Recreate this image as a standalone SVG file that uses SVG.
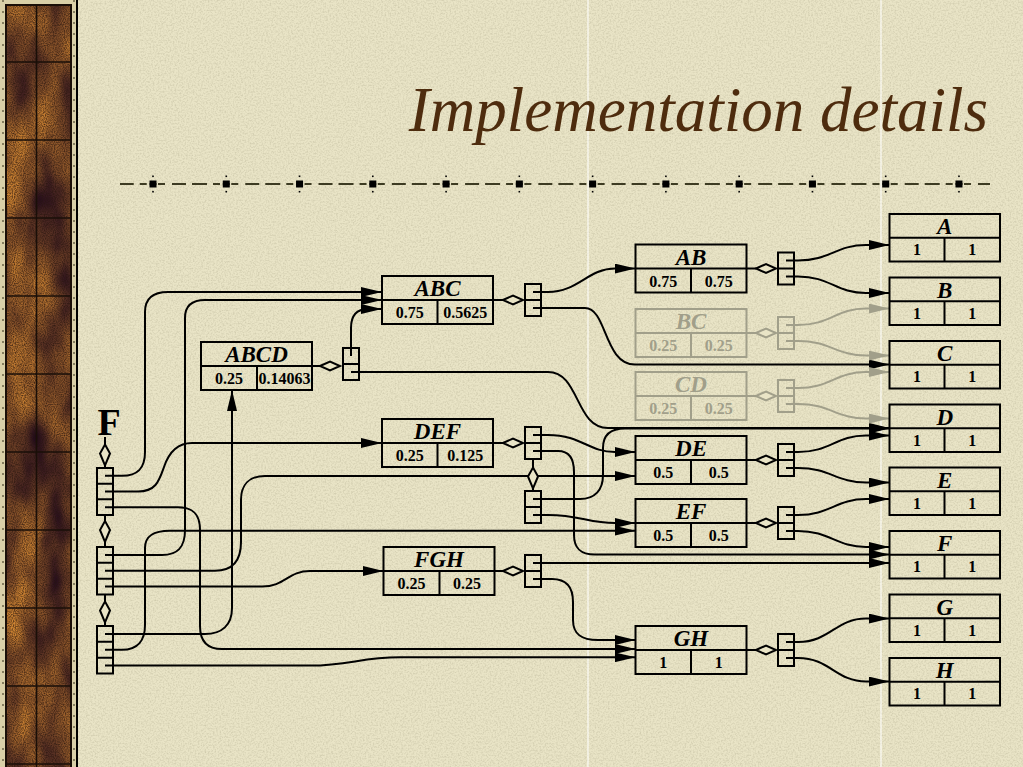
<svg xmlns="http://www.w3.org/2000/svg" width="1023" height="767" viewBox="0 0 1023 767">
<defs>
<style>
.box{fill:none;stroke:#000;stroke-width:2}
.gbox{fill:none;stroke:#a19f8a;stroke-width:2}
.e{fill:none;stroke:#000;stroke-width:2;marker-end:url(#ah)}
.ge{fill:none;stroke:#a19f8a;stroke-width:2;marker-end:url(#gah)}
.lbl{font-family:"Liberation Serif","Times New Roman",serif;font-style:italic;font-weight:bold;font-size:23px;text-anchor:middle;fill:#000}
.num{font-family:"Liberation Serif","Times New Roman",serif;font-weight:bold;font-size:16px;text-anchor:middle;fill:#000}
.gray text{fill:#a19f8a}
.dia{fill:#e9e4c6;stroke:#000;stroke-width:2}
.gdia{fill:#e9e4c6;stroke:#a19f8a;stroke-width:2}
</style>
<marker id="ah" viewBox="0 0 21 10" refX="21" refY="5" markerWidth="21" markerHeight="10" markerUnits="userSpaceOnUse" orient="auto"><path d="M0,0 L21,5 L0,10 z" fill="#000"/></marker>
<marker id="gah" viewBox="0 0 21 10" refX="21" refY="5" markerWidth="21" markerHeight="10" markerUnits="userSpaceOnUse" orient="auto"><path d="M0,0 L21,5 L0,10 z" fill="#a19f8a"/></marker>
<polygon id="dh" points="0,0 10,-4.5 20,0 10,4.5"/>
<polygon id="dv" points="0,0 5,9 0,21 -5,9"/>
<g id="sq"><rect x="-3.5" y="-3.5" width="7" height="7" fill="#000"/><rect x="-0.8" y="-8.5" width="1.6" height="1.6" fill="#000"/><rect x="-0.8" y="6.9" width="1.6" height="1.6" fill="#000"/></g>
<filter id="paper" x="0" y="0" width="1023" height="767" filterUnits="userSpaceOnUse" color-interpolation-filters="sRGB">
<feTurbulence type="fractalNoise" baseFrequency="0.6" numOctaves="2" seed="5"/>
<feColorMatrix type="matrix" values="0 0 0 0 0.35  0 0 0 0 0.33  0 0 0 0 0.22  0.35 0 0 0 -0.14"/>
</filter>
<filter id="wood" x="0" y="0" width="78" height="767" filterUnits="userSpaceOnUse" color-interpolation-filters="sRGB">
<feTurbulence type="fractalNoise" baseFrequency="0.025 0.012" numOctaves="3" seed="7" result="n"/>
<feColorMatrix in="n" type="matrix" values="1.2 0 0 0 -0.12  0.85 0 0 0 -0.14  0.15 0 0 0 0.08  0 0 0 0 1" result="c"/>
<feTurbulence type="fractalNoise" baseFrequency="0.9" numOctaves="1" seed="3" result="f"/>
<feColorMatrix in="f" type="matrix" values="0 0 0 0 0.15  0 0 0 0 0.08  0 0 0 0 0.05  1.6 0 0 0 -0.55" result="fa"/>
<feComposite in="fa" in2="c" operator="over" result="m"/>
<feComposite in="m" in2="SourceGraphic" operator="in"/>
</filter>
</defs>

<g id="background">
<rect width="1023" height="767" fill="#e9e4c6"/>
<rect width="1023" height="767" fill="#fff" filter="url(#paper)"/>
<line x1="588" y1="0" x2="588" y2="767" stroke="#fff" stroke-width="1.2" opacity="0.85"/>
<line x1="881" y1="0" x2="881" y2="767" stroke="#fff" stroke-width="1.2" opacity="0.85"/>
</g>

<g id="border">
<rect x="0" y="0" width="78" height="767" fill="#d9d0a8"/>
<line x1="3" y1="0" x2="3" y2="767" stroke="#6b6448" stroke-width="1.5" stroke-dasharray="2 9"/>
<line x1="74" y1="0" x2="74" y2="767" stroke="#6b6448" stroke-width="1.5" stroke-dasharray="2 9"/>
<rect x="6" y="5" width="65" height="762" fill="#7a4a22" filter="url(#wood)"/>
<rect x="6" y="5" width="65" height="770" fill="none" stroke="#1a0f08" stroke-width="2"/>
<line x1="77" y1="0" x2="77" y2="767" stroke="#000" stroke-width="2"/>
<line x1="36.5" y1="5" x2="36.5" y2="767" stroke="#1a0f08" stroke-width="1.6"/>
<path d="M6,62H71 M6,140H71 M6,218H71 M6,296H71 M6,374H71 M6,452H71 M6,530H71 M6,608H71 M6,686H71 M6,764H71" stroke="#1a0f08" stroke-width="1.6"/>
</g>

<g id="title">
<text x="988" y="131" font-family="Liberation Serif,Times New Roman,serif" font-style="italic" font-size="63" fill="#4e2c0e" text-anchor="end">Implementation details</text>
<line x1="120" y1="184" x2="990" y2="184" stroke="#3d3b22" stroke-width="2" stroke-dasharray="7 1.5 7 7 14 6 15 6 7 2.77" stroke-dashoffset="43.77"/>
<use href="#sq" x="153" y="184"/><use href="#sq" x="226.27" y="184"/><use href="#sq" x="299.54" y="184"/><use href="#sq" x="372.81" y="184"/><use href="#sq" x="446.08" y="184"/><use href="#sq" x="519.35" y="184"/><use href="#sq" x="592.62" y="184"/><use href="#sq" x="665.89" y="184"/><use href="#sq" x="739.16" y="184"/><use href="#sq" x="812.43" y="184"/><use href="#sq" x="885.7" y="184"/><use href="#sq" x="958.97" y="184"/>
</g>

<g id="connectors">
<path class="e" d="M105,475.8 H122 C138,475.8 145,468 145,452 V312 C145,298 153,292 168,292 H382"/>
<path class="e" d="M105,491.5 H138 C156,491.5 159,481 164,467 C169,452 177,443 192,443 H382"/>
<path class="e" d="M105,507.2 H178 C193,507.2 200,514 200,530 V626 C200,641 207,649 222,649 H635.5"/>
<path class="e" d="M105,555 H162 C178,555 185,547 185,530 V318 C185,306 192,300 205,300 H382"/>
<path class="e" d="M105,570.7 H215 C233,570.7 241,560 241,542 V500 C241,485 249,476 265,476 H635.5"/>
<path class="e" d="M105,586.6 H262 C285,586.6 288,571 310,571 H383.5"/>
<path class="e" d="M105,634 H205 C222,634 232,625 232,608 V390"/>
<path class="e" d="M105,649.8 H122 C138,649.8 145,640 145,625 V548 C145,536 153,530.7 170,530.7 H635.5"/>
<path class="e" d="M105,665.6 H310 C350,665.6 360,657.3 400,657.3 H635.5"/>
<path class="e" d="M351,356 V328 C351,315 357,309 368,309 H382"/>
<path class="e" d="M351,372 H548 C580,372 575,428 608,428 H889.5"/>
<path class="e" d="M533,292 H548 C578,292 588,268.5 615,268.5 H635.5"/>
<path class="e" d="M533,308 H585 C607,308 604,364.5 635,364.5 H889.5"/>
<path class="e" d="M533,435 H548 C582,435 588,452 615,452 H635.5"/>
<path class="e" d="M533,451 H558 C570,451 574,460 574,472 V535 C574,548 580,554.5 595,554.5 H889.5"/>
<path class="e" d="M533,499 H580 C595,499 603,490 603,475 V448 C603,435 610,428.5 625,428.5 H889.5"/>
<path class="e" d="M533,515 H548 C580,515 588,523 615,523 H635.5"/>
<path class="e" d="M533,563 H889.5"/>
<path class="e" d="M533,579 H552 C567,579 573,588 573,602 V620 C573,634 581,640 598,640 H635.5"/>
<path class="e" d="M786,260.5 H798 C830,260.5 836,245 866,245 H889.5"/>
<path class="e" d="M786,276.5 H798 C830,276.5 836,293 866,293 H889.5"/>
<path class="ge" d="M786,325 H798 C830,325 836,308.5 866,308.5 H889.5"/>
<path class="ge" d="M786,341 H798 C830,341 836,355.5 866,355.5 H889.5"/>
<path class="ge" d="M786,388 H798 C830,388 836,372 866,372 H889.5"/>
<path class="ge" d="M786,404 H798 C830,404 836,418.5 866,418.5 H889.5"/>
<path class="e" d="M786,452 H798 C830,452 836,435.5 866,435.5 H889.5"/>
<path class="e" d="M786,468 H798 C830,468 836,482.5 866,482.5 H889.5"/>
<path class="e" d="M786,515 H798 C830,515 836,499 866,499 H889.5"/>
<path class="e" d="M786,531 H798 C830,531 836,547 866,547 H889.5"/>
<path class="e" d="M786,642 H798 C830,642 836,618.5 866,618.5 H889.5"/>
<path class="e" d="M786,658 H798 C830,658 836,681.5 866,681.5 H889.5"/>
</g>

<g id="root-F">
<text x="109" y="435" font-family="Liberation Serif,Times New Roman,serif" font-weight="bold" font-size="38" text-anchor="middle">F</text>
<path class="box" d="M105,437 V468 M105,515 V547 M105,594.5 V626"/>
<use href="#dv" class="dia" x="105" y="444.5"/>
<use href="#dv" class="dia" x="105" y="521"/>
<use href="#dv" class="dia" x="105" y="601.5"/>
<rect class="box" x="97" y="468" width="16" height="47"/>
<path class="box" d="M97,483.7 H113 M97,499.3 H113"/>
<rect class="box" x="97" y="547" width="16" height="47.5"/>
<path class="box" d="M97,562.8 H113 M97,578.7 H113"/>
<rect class="box" x="97" y="626" width="16" height="47.5"/>
<path class="box" d="M97,641.8 H113 M97,657.7 H113"/>
</g>

<g id="n-ABCD">
<rect class="box" x="201" y="342" width="111" height="48"/>
<path class="box" d="M201,366 H312 M257,366 V390 M312,366 H320"/>
<text class="lbl" x="256.5" y="362">ABCD</text>
<text class="num" x="229" y="384">0.25</text>
<text class="num" x="284.5" y="384">0.14063</text>
<use href="#dh" class="dia" x="320" y="366"/>
<rect class="box" x="343" y="348" width="16" height="32"/>
<path class="box" d="M343,364 H359"/>
</g>

<g id="n-ABC">
<rect class="box" x="382" y="276" width="111" height="48"/>
<path class="box" d="M382,300 H493 M437.5,300 V324 M493,300 H503"/>
<text class="lbl" x="437.5" y="296">ABC</text>
<text class="num" x="409.75" y="318">0.75</text>
<text class="num" x="465.25" y="318">0.5625</text>
<use href="#dh" class="dia" x="503" y="300"/>
<rect class="box" x="525" y="284" width="16" height="32"/>
<path class="box" d="M525,300 H541"/>
</g>

<g id="n-DEF">
<rect class="box" x="382" y="419" width="111" height="48"/>
<path class="box" d="M382,443 H493 M437.5,443 V467 M493,443 H503"/>
<text class="lbl" x="437.5" y="439">DEF</text>
<text class="num" x="409.75" y="461">0.25</text>
<text class="num" x="465.25" y="461">0.125</text>
<use href="#dh" class="dia" x="503" y="443"/>
<rect class="box" x="525" y="427" width="16" height="32"/>
<path class="box" d="M525,443 H541 M533,459 V491"/>
<use href="#dv" class="dia" x="533" y="467.5"/>
<rect class="box" x="525" y="491" width="16" height="32"/>
<path class="box" d="M525,507 H541"/>
</g>

<g id="n-FGH">
<rect class="box" x="383.5" y="547" width="111" height="48"/>
<path class="box" d="M383.5,571 H494.5 M439.5,571 V595 M494.5,571 H503"/>
<text class="lbl" x="439" y="567">FGH</text>
<text class="num" x="411.5" y="589">0.25</text>
<text class="num" x="467" y="589">0.25</text>
<use href="#dh" class="dia" x="503" y="571"/>
<rect class="box" x="525" y="555" width="16" height="32"/>
<path class="box" d="M525,571 H541"/>
</g>

<g id="n-AB">
<rect class="box" x="635.5" y="244.5" width="111" height="48"/>
<path class="box" d="M635.5,268.5 H746.5 M691,268.5 V292.5 M746.5,268.5 H756"/>
<text class="lbl" x="691" y="264.5">AB</text>
<text class="num" x="663.25" y="286.5">0.75</text>
<text class="num" x="718.75" y="286.5">0.75</text>
<use href="#dh" class="dia" x="756" y="268.5"/>
<rect class="box" x="778" y="252.5" width="16" height="32"/>
<path class="box" d="M778,268.5 H794"/>
</g>

<g id="n-BC" class="gray">
<rect class="gbox" x="635.5" y="309" width="111" height="48"/>
<path class="gbox" d="M635.5,333 H746.5 M691,333 V357 M746.5,333 H756"/>
<text class="lbl" x="691" y="329">BC</text>
<text class="num" x="663.25" y="351">0.25</text>
<text class="num" x="718.75" y="351">0.25</text>
<use href="#dh" class="gdia" x="756" y="333"/>
<rect class="gbox" x="778" y="317" width="16" height="32"/>
<path class="gbox" d="M778,333 H794"/>
</g>

<g id="n-CD" class="gray">
<rect class="gbox" x="635.5" y="372" width="111" height="48"/>
<path class="gbox" d="M635.5,396 H746.5 M691,396 V420 M746.5,396 H756"/>
<text class="lbl" x="691" y="392">CD</text>
<text class="num" x="663.25" y="414">0.25</text>
<text class="num" x="718.75" y="414">0.25</text>
<use href="#dh" class="gdia" x="756" y="396"/>
<rect class="gbox" x="778" y="380" width="16" height="32"/>
<path class="gbox" d="M778,396 H794"/>
</g>

<g id="n-DE">
<rect class="box" x="635.5" y="436" width="111" height="48"/>
<path class="box" d="M635.5,460 H746.5 M691,460 V484 M746.5,460 H756"/>
<text class="lbl" x="691" y="456">DE</text>
<text class="num" x="663.25" y="478">0.5</text>
<text class="num" x="718.75" y="478">0.5</text>
<use href="#dh" class="dia" x="756" y="460"/>
<rect class="box" x="778" y="444" width="16" height="32"/>
<path class="box" d="M778,460 H794"/>
</g>

<g id="n-EF">
<rect class="box" x="635.5" y="499" width="111" height="48"/>
<path class="box" d="M635.5,523 H746.5 M691,523 V547 M746.5,523 H756"/>
<text class="lbl" x="691" y="519">EF</text>
<text class="num" x="663.25" y="541">0.5</text>
<text class="num" x="718.75" y="541">0.5</text>
<use href="#dh" class="dia" x="756" y="523"/>
<rect class="box" x="778" y="507" width="16" height="32"/>
<path class="box" d="M778,523 H794"/>
</g>

<g id="n-GH">
<rect class="box" x="635.5" y="626" width="111" height="48"/>
<path class="box" d="M635.5,650 H746.5 M691,650 V674 M746.5,650 H756"/>
<text class="lbl" x="691" y="646">GH</text>
<text class="num" x="663.25" y="668">1</text>
<text class="num" x="718.75" y="668">1</text>
<use href="#dh" class="dia" x="756" y="650"/>
<rect class="box" x="778" y="634" width="16" height="32"/>
<path class="box" d="M778,650 H794"/>
</g>

<g id="leaf-A"><rect class="box" x="889.5" y="214" width="110.5" height="47.5"/><path class="box" d="M889.5,237.7 H1000 M944.5,237.7 V261.5"/><text class="lbl" x="944.75" y="234">A</text><text class="num" x="917" y="255.2">1</text><text class="num" x="972.25" y="255.2">1</text></g>
<g id="leaf-B"><rect class="box" x="889.5" y="277.5" width="110.5" height="47.5"/><path class="box" d="M889.5,301.2 H1000 M944.5,301.2 V325"/><text class="lbl" x="944.75" y="297.5">B</text><text class="num" x="917" y="318.7">1</text><text class="num" x="972.25" y="318.7">1</text></g>
<g id="leaf-C"><rect class="box" x="889.5" y="341" width="110.5" height="47.5"/><path class="box" d="M889.5,364.7 H1000 M944.5,364.7 V388.5"/><text class="lbl" x="944.75" y="361">C</text><text class="num" x="917" y="382.2">1</text><text class="num" x="972.25" y="382.2">1</text></g>
<g id="leaf-D"><rect class="box" x="889.5" y="404.5" width="110.5" height="47.5"/><path class="box" d="M889.5,428.2 H1000 M944.5,428.2 V452"/><text class="lbl" x="944.75" y="424.5">D</text><text class="num" x="917" y="445.7">1</text><text class="num" x="972.25" y="445.7">1</text></g>
<g id="leaf-E"><rect class="box" x="889.5" y="467.5" width="110.5" height="47.5"/><path class="box" d="M889.5,491.2 H1000 M944.5,491.2 V515"/><text class="lbl" x="944.75" y="487.5">E</text><text class="num" x="917" y="508.7">1</text><text class="num" x="972.25" y="508.7">1</text></g>
<g id="leaf-F"><rect class="box" x="889.5" y="531" width="110.5" height="47.5"/><path class="box" d="M889.5,554.7 H1000 M944.5,554.7 V578.5"/><text class="lbl" x="944.75" y="551">F</text><text class="num" x="917" y="572.2">1</text><text class="num" x="972.25" y="572.2">1</text></g>
<g id="leaf-G"><rect class="box" x="889.5" y="594.5" width="110.5" height="47.5"/><path class="box" d="M889.5,618.2 H1000 M944.5,618.2 V642"/><text class="lbl" x="944.75" y="614.5">G</text><text class="num" x="917" y="635.7">1</text><text class="num" x="972.25" y="635.7">1</text></g>
<g id="leaf-H"><rect class="box" x="889.5" y="658" width="110.5" height="47.5"/><path class="box" d="M889.5,681.7 H1000 M944.5,681.7 V705.5"/><text class="lbl" x="944.75" y="678">H</text><text class="num" x="917" y="699.2">1</text><text class="num" x="972.25" y="699.2">1</text></g>
</svg>
